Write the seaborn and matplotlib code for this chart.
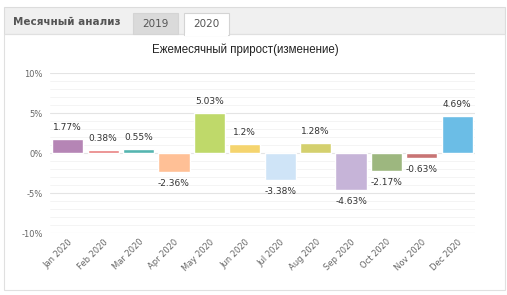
import matplotlib
matplotlib.use("Agg")
import matplotlib.pyplot as plt
import seaborn as sns
import pandas as pd
from matplotlib.patches import Rectangle
from matplotlib.ticker import MultipleLocator, FuncFormatter

# data
months = ["Jan 2020", "Feb 2020", "Mar 2020", "Apr 2020", "May 2020", "Jun 2020",
          "Jul 2020", "Aug 2020", "Sep 2020", "Oct 2020", "Nov 2020", "Dec 2020"]
growth = [1.77, 0.38, 0.55, -2.36, 5.03, 1.2, -3.38, 1.28, -4.63, -2.17, -0.63, 4.69]
colors = ["#b585b5", "#e88080", "#55b5b0", "#ffc096", "#bfd96a", "#f5d46e",
          "#cfe4f7", "#d4d06e", "#c6b4d8", "#9db77f", "#c87474", "#6bbde6"]
tabs = ["Месячный анализ", "2019", "2020"]
title = "Ежемесячный прирост(изменение)"

df = pd.DataFrame({"month": months, "growth": growth})

sns.set_theme(style="white")
plt.rcParams["font.family"] = ["DejaVu Sans"]

W, H = 507, 295
fig = plt.figure(figsize=(W / 100, H / 100), dpi=100)
fig.patch.set_facecolor("white")

def px(x, y, w, h):
    # pixel box (top-left origin) -> figure fraction
    return (x / W, 1 - (y + h) / H, w / W, h / H)

# -------------------------------
# tab header / panel frame
# -------------------------------
def rect(x, y, w, h, fc, ec, lw=0.8, z=0):
    l, b, ww, hh = px(x, y, w, h)
    fig.patches.append(Rectangle((l, b), ww, hh, transform=fig.transFigure,
                                 facecolor=fc, edgecolor=ec, linewidth=lw, zorder=z))

rect(4, 7, 501, 27, "#f0f0f0", "#dcdcdc")
rect(133, 13, 45, 21, "#dadada", "#d4d4d4", z=1)
rect(184, 13, 45, 22, "#ffffff", "#d4d4d4", z=1)
rect(4, 34, 501, 256, "none", "#e0e0e0")
rect(184.6, 33, 43.8, 3, "#ffffff", "none", lw=0, z=2)

fig.text(67 / W, 1 - 22 / H, tabs[0], ha="center", va="center",
         fontsize=7.5, fontweight="bold", color="#555555")
fig.text(155.5 / W, 1 - 24 / H, tabs[1], ha="center", va="center",
         fontsize=7.5, color="#555555")
fig.text(206.5 / W, 1 - 24 / H, tabs[2], ha="center", va="center",
         fontsize=7.5, color="#555555")

fig.text(245 / W, 1 - 50 / H, title, ha="center", va="center",
         fontsize=8.3, color="#222222", family="Liberation Sans")

# -------------------------------
# bar chart
# -------------------------------
ax = fig.add_axes(px(50, 73.3, 425, 160))
sns.barplot(data=df, x="month", y="growth", hue="month", palette=colors,
            legend=False, width=0.88, ax=ax, saturation=1, zorder=3)

ax.set_ylim(-10, 10)
ax.set_xlim(-0.5, len(months) - 0.5)
ax.yaxis.set_major_locator(MultipleLocator(5))
ax.yaxis.set_minor_locator(MultipleLocator(1))
ax.yaxis.set_major_formatter(FuncFormatter(lambda v, p: f"{v:g}%"))
ax.grid(axis="y", which="major", color="#e4e4e4", linewidth=0.8, zorder=0)
ax.grid(axis="y", which="minor", color="#f3f3f3", linewidth=0.6, zorder=0)
ax.set_axisbelow(True)
for s in ax.spines.values():
    s.set_visible(False)
ax.set_xlabel("")
ax.set_ylabel("")
ax.tick_params(axis="y", which="both", length=0, labelsize=6, labelcolor="#666666", pad=5)
ax.tick_params(axis="x", length=0, labelsize=6, labelcolor="#666666", pad=3)
plt.setp(ax.get_xticklabels(), rotation=45, ha="right", rotation_mode="anchor")

for i, v in enumerate(growth):
    ax.annotate(f"{v:g}%", (i, v), xytext=(0, 5 if v >= 0 else -5),
                textcoords="offset points", ha="center",
                va="bottom" if v >= 0 else "top", fontsize=6.5, color="#333333")

fig.savefig("out.png", dpi=100, facecolor="white")
